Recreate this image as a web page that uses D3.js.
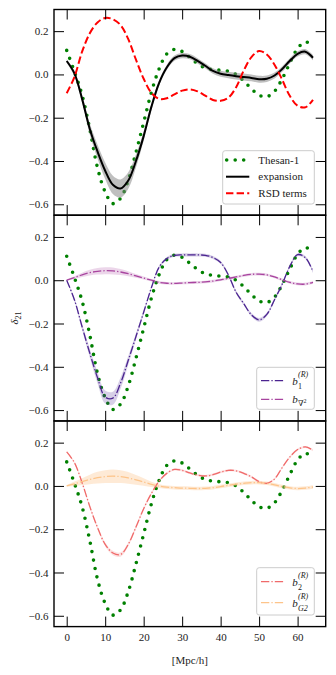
<!DOCTYPE html>
<html><head><meta charset="utf-8">
<script src="https://cdn.jsdelivr.net/npm/d3@7"></script>
<style>html,body{margin:0;padding:0;background:#fff;} svg{display:block;font-family:"Liberation Serif","DejaVu Serif",serif;}</style>
</head><body><svg id="c" width="336" height="675"></svg>
<script>
// ---------- data ----------
const xs = [0,2,4,6,8,10,12,14,16,18,20,22,24,26,28,30,32,34,36,38,40,42,44,46,48,50,52,54,56,58,60,62,64];
const thesan = [0.111,0.013,-0.096,-0.253,-0.431,-0.543,-0.597,-0.572,-0.488,-0.36,-0.222,-0.083,0.025,0.095,0.116,0.106,0.078,0.05,0.03,0.022,0.019,0.015,0.0,-0.03,-0.066,-0.096,-0.103,-0.078,-0.02,0.053,0.12,0.15,0.135];
const expansion = [0.062,0.005,-0.113,-0.252,-0.356,-0.445,-0.51,-0.527,-0.49,-0.4,-0.285,-0.15,-0.04,0.032,0.075,0.087,0.082,0.063,0.04,0.016,0.003,-0.003,-0.008,-0.012,-0.016,-0.022,-0.02,-0.005,0.025,0.063,0.095,0.105,0.077];
const expansionErr = [0.008,0.012,0.018,0.025,0.032,0.038,0.042,0.042,0.038,0.03,0.022,0.016,0.013,0.012,0.012,0.012,0.012,0.012,0.012,0.013,0.014,0.015,0.016,0.016,0.016,0.016,0.015,0.014,0.013,0.012,0.012,0.012,0.012];
const rsd = [-0.087,-0.012,0.105,0.19,0.24,0.261,0.255,0.228,0.163,0.068,-0.02,-0.085,-0.113,-0.11,-0.092,-0.075,-0.069,-0.078,-0.098,-0.118,-0.122,-0.108,-0.06,0.018,0.08,0.108,0.092,0.045,-0.025,-0.1,-0.145,-0.152,-0.118];
const b1 = [0.0,-0.09,-0.215,-0.337,-0.45,-0.54,-0.545,-0.475,-0.37,-0.26,-0.148,-0.035,0.06,0.1,0.115,0.117,0.117,0.117,0.115,0.105,0.082,0.025,-0.055,-0.108,-0.16,-0.183,-0.158,-0.09,-0.018,0.065,0.118,0.105,0.04];
const b1Err = [0.002,0.008,0.014,0.02,0.026,0.03,0.03,0.026,0.02,0.014,0.01,0.008,0.007,0.007,0.007,0.007,0.007,0.007,0.007,0.007,0.007,0.007,0.007,0.007,0.008,0.009,0.008,0.007,0.007,0.007,0.007,0.007,0.007];
const bNabla = [0.0,0.012,0.025,0.035,0.041,0.044,0.043,0.038,0.03,0.02,0.01,0.0,-0.01,-0.014,-0.015,-0.013,-0.011,-0.01,-0.008,-0.004,0.002,0.008,0.015,0.022,0.027,0.028,0.025,0.015,0.002,-0.01,-0.017,-0.018,-0.01];
const bNablaErr = [0.002,0.006,0.01,0.013,0.015,0.016,0.016,0.014,0.012,0.009,0.007,0.006,0.006,0.006,0.006,0.006,0.006,0.006,0.006,0.006,0.006,0.006,0.006,0.006,0.006,0.006,0.006,0.006,0.006,0.006,0.006,0.006,0.006];
const b2 = [0.157,0.108,0.015,-0.095,-0.192,-0.27,-0.31,-0.317,-0.27,-0.19,-0.105,-0.035,0.022,0.058,0.076,0.072,0.06,0.05,0.046,0.052,0.064,0.072,0.07,0.058,0.042,0.02,0.012,0.032,0.085,0.134,0.168,0.18,0.165];
const b2Err = [0.004,0.005,0.006,0.007,0.008,0.009,0.01,0.01,0.009,0.008,0.007,0.006,0.005,0.005,0.005,0.005,0.005,0.005,0.005,0.005,0.005,0.005,0.005,0.005,0.005,0.005,0.005,0.005,0.005,0.005,0.005,0.005,0.005];
const bG2 = [0.0,0.01,0.02,0.03,0.038,0.043,0.045,0.043,0.037,0.028,0.018,0.007,-0.001,-0.006,-0.008,-0.01,-0.011,-0.012,-0.011,-0.008,-0.003,0.003,0.008,0.012,0.015,0.015,0.012,0.005,-0.003,-0.009,-0.012,-0.01,-0.005];
const bG2Err = [0.003,0.01,0.016,0.022,0.027,0.03,0.031,0.03,0.027,0.022,0.017,0.012,0.009,0.008,0.008,0.008,0.008,0.008,0.008,0.008,0.008,0.008,0.008,0.008,0.008,0.008,0.008,0.008,0.008,0.008,0.008,0.008,0.008];
const xTicks = [0,10,20,30,40,50,60];
const yTicks = [-0.6,-0.4,-0.2,0.0,0.2];
const xLabel = "[Mpc/h]";

// ---------- layout ----------
const svg = d3.select("#c");
const left = 54, right = 325.7, panelH = 205.6;
const tops = [9.5, 215.3, 421];
const x = d3.scaleLinear().domain([-3.3, 67.3]).range([left, right]);
const fmt = v => (v < 0 ? "\u2212" : "") + Math.abs(v).toFixed(1);

function panel(i) {
  const top = tops[i];
  const y = d3.scaleLinear().domain([-0.65, 0.30]).range([top + panelH, top]);
  const g = svg.append("g");
  const clipId = "clip" + i;
  svg.append("clipPath").attr("id", clipId).append("rect")
    .attr("x", left).attr("y", top).attr("width", right - left).attr("height", panelH);
  const plot = g.append("g").attr("clip-path", `url(#${clipId})`);
  return {g, plot, y, top};
}

function band(p, vals, errs, color, op) {
  const data = xs.map((d, k) => [d, vals[k], errs[k]]);
  p.plot.append("path").datum(data)
    .attr("d", d3.area().x(d => x(d[0])).y0(d => p.y(d[1] - d[2])).y1(d => p.y(d[1] + d[2])).curve(d3.curveCatmullRom))
    .attr("fill", color).attr("fill-opacity", op).attr("stroke", "none");
}
function line(p, vals, color, w, dash, cap) {
  const data = xs.map((d, k) => [d, vals[k]]);
  p.plot.append("path").datum(data)
    .attr("d", d3.line().x(d => x(d[0])).y(d => p.y(d[1])).curve(d3.curveCatmullRom))
    .attr("fill", "none").attr("stroke", color).attr("stroke-width", w)
    .attr("stroke-dasharray", dash || null).attr("stroke-linecap", cap || "butt");
}
function dots(p) { line(p, thesan, "#008000", 3.6, "0 8.5", "round"); }

function axes(p, showX) {
  const bottom = p.top + panelH;
  const ax = d3.axisBottom(x).tickValues(xTicks).tickSizeInner(-10).tickSizeOuter(0).tickPadding(7)
    .tickFormat(showX ? d3.format("d") : () => "");
  const gb = p.g.append("g").attr("transform", `translate(0,${bottom})`).call(ax);
  const gt = p.g.append("g").attr("transform", `translate(0,${p.top})`)
    .call(d3.axisTop(x).tickValues(xTicks).tickSizeInner(-10).tickSizeOuter(0).tickFormat(() => ""));
  const gl = p.g.append("g").attr("transform", `translate(${left},0)`)
    .call(d3.axisLeft(p.y).tickValues(yTicks).tickSizeInner(-10).tickSizeOuter(0).tickPadding(5.5).tickFormat(fmt));
  const gr = p.g.append("g").attr("transform", `translate(${right},0)`)
    .call(d3.axisRight(p.y).tickValues(yTicks).tickSizeInner(-10).tickSizeOuter(0).tickFormat(() => ""));
  [gb, gt, gl, gr].forEach(a => {
    a.select(".domain").remove();
    a.selectAll(".tick line").attr("stroke", "#000").attr("stroke-width", 1);
    a.selectAll("text").attr("font-family", "Liberation Serif, serif").attr("font-size", 11).attr("fill", "#222");
  });
  p.g.append("rect").attr("x", left).attr("y", p.top).attr("width", right - left).attr("height", panelH)
    .attr("fill", "none").attr("stroke", "#000").attr("stroke-width", 1.4);
}

function legendBox(bx, by, bw, bh) {
  svg.append("rect").attr("x", bx).attr("y", by).attr("width", bw).attr("height", bh)
    .attr("rx", 2.5).attr("fill", "#fff").attr("fill-opacity", 0.8).attr("stroke", "#cccccc").attr("stroke-width", 1);
}
function legendLine(x0, x1, yy, color, w, dash, cap) {
  svg.append("line").attr("x1", x0).attr("x2", x1).attr("y1", yy).attr("y2", yy)
    .attr("stroke", color).attr("stroke-width", w).attr("stroke-dasharray", dash || null).attr("stroke-linecap", cap || "butt");
}
function txt(tx, ty, s, size, italic) {
  return svg.append("text").attr("x", tx).attr("y", ty).attr("font-size", size || 11)
    .attr("font-style", italic ? "italic" : "normal").attr("fill", "#222").text(s);
}

const DD = "8.3 2.1 1.3 2.1";
const cB1 = "#4b2490", cNab = "#a8449f", cB2 = "#f06a6a", cG2 = "#fdc48a";

// Panel 1
const p1 = panel(0);
dots(p1);
band(p1, expansion, expansionErr, "#808080", 0.5);
line(p1, expansion, "#000", 2);
line(p1, rsd, "#ff0000", 2, "7.4 3.2");
axes(p1, false);

// Panel 2
const p2 = panel(1);
dots(p2);
band(p2, b1, b1Err, cB1, 0.22);
band(p2, bNabla, bNablaErr, cNab, 0.22);
line(p2, b1, cB1, 1.3, DD);
line(p2, bNabla, cNab, 1.3, DD);
axes(p2, false);

// Panel 3
const p3 = panel(2);
dots(p3);
band(p3, b2, b2Err, cB2, 0.2);
band(p3, bG2, bG2Err, cG2, 0.35);
line(p3, b2, cB2, 1.3, DD);
line(p3, bG2, cG2, 1.3, DD);
axes(p3, true);

// x label
svg.append("text").attr("x", (left + right) / 2).attr("y", 664).attr("text-anchor", "middle")
  .attr("font-size", 11).attr("fill", "#222").text(xLabel);

// y label  δ21
const yl = svg.append("text").attr("transform", "translate(18,318) rotate(-90)").attr("text-anchor", "middle")
  .attr("font-size", 11).attr("fill", "#222");
yl.append("tspan").attr("font-style", "italic").text("δ");
yl.append("tspan").attr("font-size", 8).attr("dy", 2.5).text("21");

// Legend 1
legendBox(222.7, 150.7, 91.6, 53.3);
legendLine(226.7, 249.5, 160, "#008000", 3.6, "0 8.5", "round");
txt(258.3, 163.8, "Thesan-1");
legendLine(226, 249.3, 176.7, "#000", 2);
txt(258.3, 180.3, "expansion");
legendLine(226, 249.3, 193.3, "#ff0000", 2, "7.4 3.2");
txt(258.3, 196.9, "RSD terms");

// Legend 2
legendBox(256.7, 367.3, 57.6, 42);
legendLine(261, 283.3, 380.7, cB1, 1.3, DD);
txt(292.3, 384.5, "b", 11, true);
txt(298, 388.5, "1", 8);
txt(298, 377, "(R)", 8).attr("font-style", "italic");
legendLine(261, 283.3, 399.3, cNab, 1.3, DD);
txt(292.3, 402.5, "b", 11, true);
txt(298, 406, "∇", 8);
txt(303.5, 402.5, "2", 6);

// Legend 3
legendBox(256.7, 567.7, 57.6, 47.3);
legendLine(261, 283.3, 581.7, cB2, 1.3, DD);
txt(292.3, 585.5, "b", 11, true);
txt(298, 589.5, "2", 8);
txt(298, 578, "(R)", 8).attr("font-style", "italic");
legendLine(261, 283.3, 602.7, cG2, 1.3, DD);
txt(292.3, 606.5, "b", 11, true);
txt(298, 610.5, "G2", 8).attr("font-style", "italic");
txt(298, 599, "(R)", 8).attr("font-style", "italic");
</script></body></html>
